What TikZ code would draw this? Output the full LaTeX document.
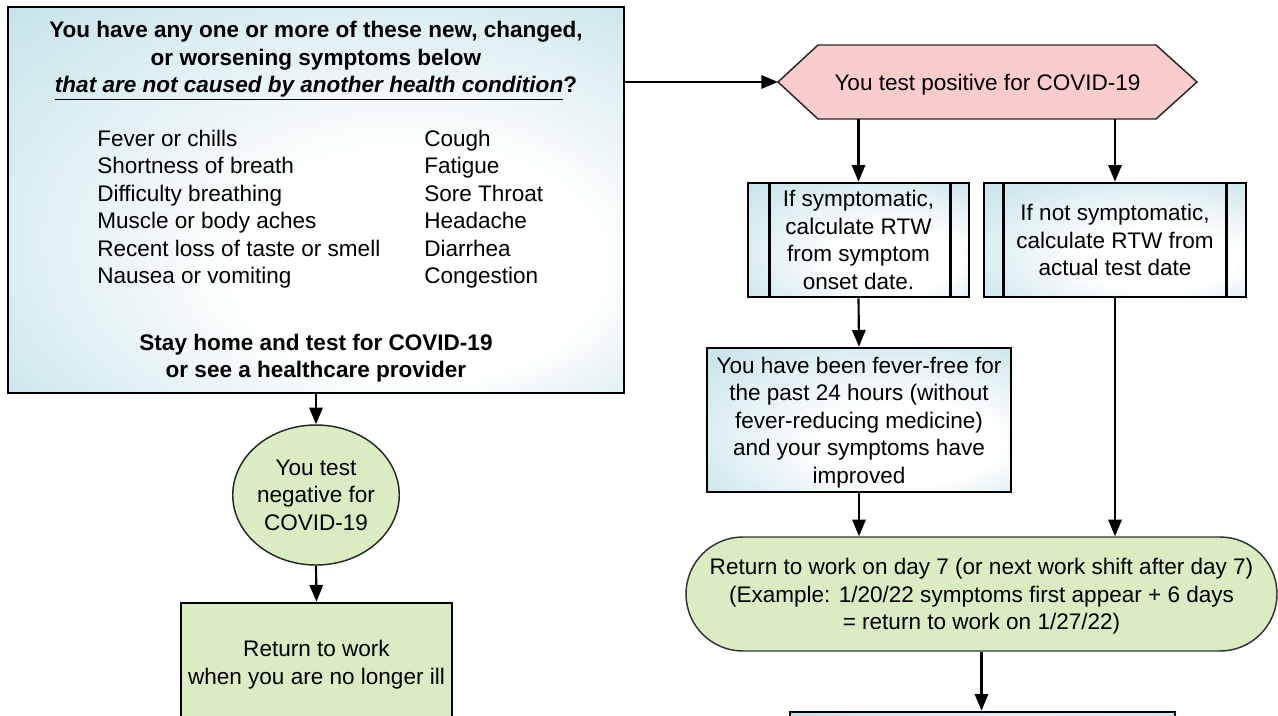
\documentclass[tikz,border=0pt]{standalone}
\usepackage{fontspec}
\setmainfont{Liberation Sans}
\usetikzlibrary{arrows.meta}
\usetikzlibrary{shapes.geometric}
\usetikzlibrary{calc}

\definecolor{tealfill}{RGB}{184,221,228}
\definecolor{pinkfill}{RGB}{250,204,204}
\definecolor{greenfill}{RGB}{217,236,194}
\pgfdeclareradialshading{tealglow}{\pgfpoint{12bp}{-12bp}}{color(0bp)=(white); color(14bp)=(white); color(45bp)=(tealfill); color(50bp)=(tealfill)}
\newcommand\fsz{\fontsize{16.9}{20.6}\selectfont}

\tikzset{
  txt/.style={font=\fsz, align=center, inner sep=0pt, text depth=0pt},
  bold/.style={font=\fsz\bfseries, align=center, inner sep=0pt, text depth=0pt},
  tealbox/.style={draw=black, line width=2pt, shading=tealglow},
  greenbox/.style={draw=black, line width=2pt, fill=greenfill},
  greenoval/.style={ellipse, draw=black!85, line width=1.1pt, fill=greenfill},
  greenterm/.style={draw=black!80, line width=1.1pt, fill=greenfill},
  hexshape/.style={draw=black!85, line width=1.1pt, fill=pinkfill},
  bar/.style={draw=black, line width=2pt},
  arr/.style={line width=1.6pt, -{Triangle[length=12.5pt,width=10pt]}}
}

\begin{document}
\begin{tikzpicture}[x=0.75pt,y=0.75pt,yscale=-1]
\useasboundingbox (0,0) rectangle (1278,715);
\fill[white] (0,0) rectangle (1278,715);
\clip (0,0) rectangle (1278,715);

%Shape: Rectangle (symptoms)
\node[tealbox, minimum width=462pt, minimum height=289.5pt] (sympt) at (316,200) {};
% Text Node
\node[bold] (ask) at (316,57) {You have any one or more of these new, changed,\\or worsening symptoms below\\\underline{\textit{that are not caused by another health condition}}?};
% Text Node
\node[txt, align=left, anchor=west] (listl) at (97,207) {Fever or chills\\Shortness of breath\\Difficulty breathing\\Muscle or body aches\\Recent loss of taste or smell\\Nausea or vomiting};
% Text Node
\node[txt, align=left, anchor=west] (listr) at (424,207) {Cough\\Fatigue\\Sore Throat\\Headache\\Diarrhea\\Congestion};
% Text Node
\node[bold] (stay) at (316,356) {Stay home and test for COVID-19\\or see a healthcare provider};

%Shape: Hexagon (positive)
\coordinate (posc) at (987.5,82);
\draw[hexshape] ($(posc)+(-209.5,0)$) -- ($(posc)+(-169.5,-37)$) -- ($(posc)+(168.5,-37)$) -- ($(posc)+(209.5,0)$) -- ($(posc)+(168.5,37)$) -- ($(posc)+(-169.5,37)$) -- cycle;
\node[txt, outer sep=0pt, minimum width=314.25pt, minimum height=55.5pt] (pos) at (posc) {You test positive for COVID-19};

%Shape: Predefined process boxes
\node[tealbox, txt, minimum width=165.75pt, minimum height=85.5pt] (symp) at (858.5,240) {If symptomatic,\\calculate RTW\\from symptom\\onset date.};
\draw[bar] ([xshift=17.25pt]symp.north west) -- ([xshift=17.25pt]symp.south west);
\draw[bar] ([xshift=-15pt]symp.north east) -- ([xshift=-15pt]symp.south east);
\node[tealbox, txt, minimum width=196.5pt, minimum height=85.5pt] (asymp) at (1115,240) {If not symptomatic,\\calculate RTW from\\actual test date};
\draw[bar] ([xshift=15.75pt]asymp.north west) -- ([xshift=15.75pt]asymp.south west);
\draw[bar] ([xshift=-15.75pt]asymp.north east) -- ([xshift=-15.75pt]asymp.south east);

%Shape: Rectangle (fever-free)
\node[tealbox, txt, minimum width=228pt, minimum height=108pt] (fever) at (859,420) {You have been fever-free for\\the past 24 hours (without\\fever-reducing medicine)\\and your symptoms have\\improved};

%Shape: Terminal (return to work)
\node[greenterm, txt, rounded corners=42.75pt, minimum width=443.25pt, minimum height=85.5pt] (rtw) at (981.5,594) {Return to work on day 7 (or next work shift after day 7)\\(Example: 1/20/22 symptoms first appear + 6 days\\= return to work on 1/27/22)};

%Shape: Rectangle (next step, cut off)
\node[tealbox, minimum width=288.75pt, minimum height=45pt] (nextstep) at (982.5,742) {};

%Shape: Ellipse (negative)
\node[greenoval, txt, minimum width=108pt, minimum height=105pt] (neg) at (316,495) {You test\\negative for\\COVID-19};

%Shape: Rectangle (back to work)
\node[greenbox, txt, minimum width=203.25pt, minimum height=89.25pt] (back) at (316.5,662.5) {Return to work\\when you are no longer ill};

%Straight Lines
\draw[arr] (sympt.east |- pos.west) -- (pos.west);
\draw[arr] (pos.south -| symp.north) -- (symp.north);
\draw[arr] (pos.south -| asymp.north) -- (asymp.north);
\draw[arr] (symp.south) -- (fever.north);
\draw[arr] (fever.south) -- (fever.south |- rtw.north);
\draw[arr] (asymp.south) -- (asymp.south |- rtw.north);
\draw[arr] (rtw.south) -- (rtw.south |- nextstep.north);
\draw[arr] (sympt.south) -- (neg.north);
\draw[arr] (neg.south) -- (back.north);

\end{tikzpicture}
\end{document}
